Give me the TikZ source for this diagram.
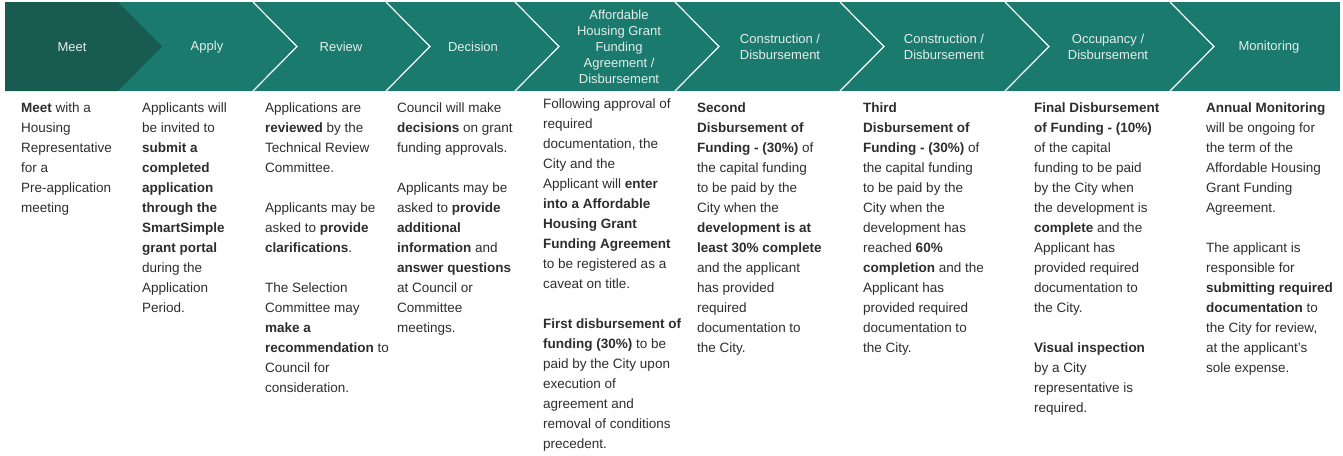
\documentclass[tikz,border=0pt]{standalone}
\usepackage{fontspec}
\setmainfont{Liberation Sans}
\usetikzlibrary{calc}
\definecolor{tealmain}{RGB}{26,122,110}
\definecolor{tealdark}{RGB}{23,91,81}
\definecolor{stagetxt}{RGB}{228,238,235}
\definecolor{bodytxt}{RGB}{45,45,45}

\begin{document}
\begin{tikzpicture}[x=1pt,y=-1pt,
  stage/.style={text=stagetxt, align=center, inner sep=0, font=\fontsize{13}{16}\selectfont},
  body/.style={text=bodytxt, align=left, anchor=north west, inner sep=0, font=\fontsize{13.5}{20}\selectfont}]
\useasboundingbox (0,0) rectangle (1343,455);
% banner with the chevrons
\fill[tealmain] (5,2) rectangle (1340,91);
\fill[tealdark] (5,2) -- (118,2) -- (162,46.5) -- (118,91) -- (5,91) -- cycle;
\foreach \x in {253,386,515,675,840,1005,1170} \draw[white, line width=1.2pt] (\x,2) --++(44,44.5) --++(-44,44.5);

\node[stage] (meet) at (72,47) {Meet};
\node[stage] (apply) at (207,47) {Apply};
\node[stage] (review) at (341,47) {Review};
\node[stage] (decision) at (473,47) {Decision};
\node[stage] (agreement) at (619,46.5) {Affordable\\Housing Grant\\Funding\\Agreement /\\Disbursement};
\node[stage] (constrA) at (780,47) {Construction /\\Disbursement};
\node[stage] (constrB) at (944,47) {Construction /\\Disbursement};
\node[stage] (occupancy) at (1108,47) {Occupancy /\\Disbursement};
\node[stage] (monitor) at (1269,47) {Monitoring};

% texts under each stage
\node[body] (meetTxt) at (21,103) {\textbf{Meet} with a\\ Housing\\ Representative\\ for a\\ Pre-application\\ meeting};
\node[body] (applyTxt) at (142,103) {Applicants will\\ be invited to\\ \textbf{submit a}\\ \textbf{completed}\\ \textbf{application}\\ \textbf{through the}\\ \textbf{SmartSimple}\\ \textbf{grant portal}\\ during the\\ Application\\ Period.};
\node[body] (reviewTxt) at (265,103) {Applications are\\ \textbf{reviewed} by the\\ Technical Review\\ Committee.\\[20pt] Applicants may be\\ asked to \textbf{provide}\\ \textbf{clarifications}.\\[20pt] The Selection\\ Committee may\\ \textbf{make a}\\ \textbf{recommendation} to\\ Council for\\ consideration.};
\node[body] (decisionTxt) at (397,103) {Council will make\\ \textbf{decisions} on grant\\ funding approvals.\\[20pt] Applicants may be\\ asked to \textbf{provide}\\ \textbf{additional}\\ \textbf{information} and\\ \textbf{answer questions}\\ at Council or\\ Committee\\ meetings.};
\node[body] (agreementTxt) at (543,99) {Following approval of\\ required\\ documentation, the\\ City and the\\ Applicant will \textbf{enter}\\ \textbf{into a Affordable}\\ \textbf{Housing Grant}\\ \textbf{Funding Agreement}\\ to be registered as a\\ caveat on title.\\[20pt] \textbf{First disbursement of}\\ \textbf{funding (30\%)} to be\\ paid by the City upon\\ execution of\\ agreement and\\ removal of conditions\\ precedent.};
\node[body] (constrATxt) at (697,103) {\textbf{Second}\\ \textbf{Disbursement of}\\ \textbf{Funding - (30\%)} of\\ the capital funding\\ to be paid by the\\ City when the\\ \textbf{development is at}\\ \textbf{least 30\% complete}\\ and the applicant\\ has provided\\ required\\ documentation to\\ the City.};
\node[body] (constrBTxt) at (863,103) {\textbf{Third}\\ \textbf{Disbursement of}\\ \textbf{Funding - (30\%)} of\\ the capital funding\\ to be paid by the\\ City when the\\ development has\\ reached \textbf{60\%}\\ \textbf{completion} and the\\ Applicant has\\ provided required\\ documentation to\\ the City.};
\node[body] (occupancyTxt) at (1034,103) {\textbf{Final Disbursement}\\ \textbf{of Funding - (10\%)}\\ of the capital\\ funding to be paid\\ by the City when\\ the development is\\ \textbf{complete} and the\\ Applicant has\\ provided required\\ documentation to\\ the City.\\[20pt] \textbf{Visual inspection}\\ by a City\\ representative is\\ required.};
\node[body] (monitorTxt) at (1206,103) {\textbf{Annual Monitoring}\\ will be ongoing for\\ the term of the\\ Affordable Housing\\ Grant Funding\\ Agreement.\\[20pt] The applicant is\\ responsible for\\ \textbf{submitting required}\\ \textbf{documentation} to\\ the City for review,\\ at the applicant’s\\ sole expense.};

\end{tikzpicture}
\end{document}
